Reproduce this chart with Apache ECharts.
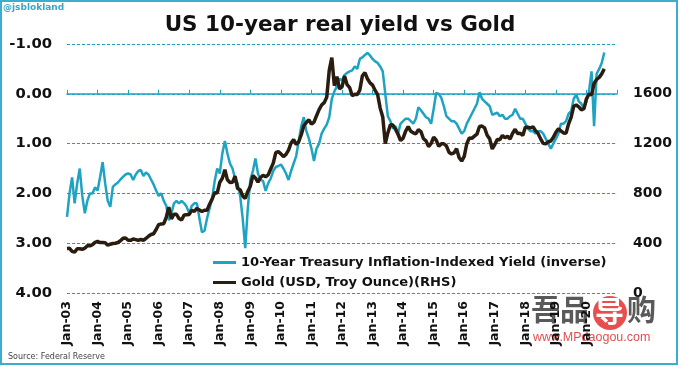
<!DOCTYPE html>
<html><head><meta charset="utf-8">
<script src="https://cdn.jsdelivr.net/npm/echarts@6/dist/echarts.min.js"></script>
<style>html,body{margin:0;padding:0;background:#fff}#c{width:680px;height:366px}</style>
</head><body><div id="c"></div>
<script>
const titleText = 'US 10-year real yield vs Gold';
const seriesNames = ['10-Year Treasury Inflation-Indexed Yield (inverse)', 'Gold (USD, Troy Ounce)(RHS)'];
const yearLabels = ['Jan-03','Jan-04','Jan-05','Jan-06','Jan-07','Jan-08','Jan-09','Jan-10','Jan-11','Jan-12','Jan-13','Jan-14','Jan-15','Jan-16','Jan-17','Jan-18','Jan-19','Jan-20'];
// monthly values, Jan-03 onward
const realYield = [
  2.47, 2.0, 1.68, 2.2, 1.8, 1.5, 2.05, 2.4, 2.15, 2.0, 2.0, 1.88,
  1.94, 1.67, 1.37, 1.8, 2.15, 2.27, 1.87, 1.82, 1.78, 1.72, 1.67, 1.62,
  1.6, 1.62, 1.73, 1.62, 1.55, 1.53, 1.65, 1.58, 1.62, 1.72, 1.82, 1.94,
  2.05, 2.0, 2.15, 2.25, 2.54, 2.4, 2.2, 2.15, 2.2, 2.15, 2.2, 2.27,
  2.4, 2.25, 2.2, 2.2, 2.5, 2.78, 2.75, 2.5, 2.3, 2.1, 1.75, 1.5,
  1.6, 1.2, 0.95, 1.2, 1.4, 1.5, 1.7, 1.8, 2.05, 2.5, 3.1, 2.3,
  1.73, 1.55, 1.3, 1.6, 1.73, 1.75, 1.95, 1.8, 1.7, 1.55, 1.47, 1.45,
  1.42, 1.5, 1.6, 1.73, 1.55, 1.4, 1.25, 0.95, 0.65, 0.47, 0.75, 0.9,
  1.1, 1.35, 1.1, 1.0, 0.8, 0.7, 0.62, 0.47, 0.1, -0.05, -0.15, -0.3,
  -0.27, -0.38, -0.42, -0.45, -0.47, -0.55, -0.5, -0.7, -0.73, -0.78, -0.82, -0.77,
  -0.7, -0.65, -0.62, -0.55, -0.45, 0.0, 0.45, 0.55, 0.7, 0.65, 0.8, 0.6,
  0.55, 0.5, 0.5, 0.55, 0.6, 0.5, 0.27, 0.33, 0.4, 0.47, 0.5, 0.6,
  0.3, -0.02, 0.0, 0.08, 0.25, 0.45, 0.5, 0.55, 0.55, 0.6, 0.7, 0.8,
  0.75, 0.6, 0.5, 0.4, 0.3, 0.2, -0.03, 0.1, 0.15, 0.2, 0.25, 0.42,
  0.4, 0.38, 0.45, 0.42, 0.5, 0.5, 0.45, 0.42, 0.3, 0.4, 0.5, 0.5,
  0.6, 0.7, 0.75, 0.75, 0.8, 0.75, 0.75, 0.8, 0.9, 1.0, 1.1, 1.0,
  0.9, 0.8, 0.6, 0.6, 0.55, 0.4, 0.35, 0.1, 0.02, 0.15, 0.2, 0.3,
  0.15, -0.05, -0.45, 0.65, -0.4, -0.5, -0.62, -0.83
];
const gold = [
  357, 359, 335, 328, 355, 356, 351, 360, 379, 379, 389, 407,
  414, 405, 406, 404, 384, 392, 398, 400, 406, 420, 439, 442,
  424, 423, 434, 429, 422, 430, 424, 438, 456, 470, 476, 510,
  549, 555, 557, 610, 690, 596, 633, 632, 598, 586, 627, 629,
  631, 665, 655, 679, 667, 655, 665, 665, 713, 754, 806, 803,
  889, 922, 990, 909, 888, 889, 939, 839, 829, 780, 760, 816,
  858, 943, 924, 890, 928, 946, 934, 949, 996, 1043, 1127, 1135,
  1118, 1095, 1113, 1148, 1205, 1233, 1193, 1215, 1271, 1343, 1370, 1391,
  1356, 1372, 1424, 1473, 1510, 1529, 1572, 1790, 1890, 1665, 1739, 1640,
  1656, 1742, 1673, 1650, 1585, 1596, 1594, 1630, 1745, 1770, 1721, 1688,
  1670, 1627, 1593, 1485, 1414, 1200, 1286, 1352, 1349, 1316, 1275, 1225,
  1244, 1300, 1336, 1299, 1287, 1279, 1311, 1296, 1239, 1222, 1176, 1201,
  1251, 1227, 1179, 1198, 1199, 1182, 1131, 1117, 1125, 1159, 1086, 1060,
  1097, 1199, 1246, 1242, 1260, 1276, 1337, 1341, 1326, 1267, 1238, 1157,
  1192, 1234, 1231, 1266, 1246, 1260, 1236, 1283, 1315, 1280, 1283, 1265,
  1331, 1331, 1325, 1335, 1303, 1282, 1238, 1202, 1198, 1215, 1221, 1250,
  1291, 1320, 1301, 1286, 1284, 1359, 1413, 1500, 1510, 1495, 1471, 1480,
  1560, 1597, 1591, 1683, 1716, 1732, 1760, 1800
];
const leftTicks = { min: -1, max: 4, step: 1 };
const rightTicks = { min: 0, max: 2000, step: 400 };

const FONT = '"DejaVu Sans", Verdana, sans-serif';
const TEAL = '#1fa3c2';
const GRIDC = '#1f9cc0';
const BROWN = '#2a1d10';

const chart = echarts.init(document.getElementById('c'), null, { renderer: 'canvas' });
chart.setOption({
  animation: false,
  backgroundColor: '#fff',
  title: {
    text: titleText, left: 'center', top: 9,
    textStyle: { fontFamily: FONT, fontWeight: 'bold', fontSize: 21.5, color: '#111' }
  },
  grid: { left: 67, right: 63, top: 44, bottom: 73 },
  legend: {
    orient: 'vertical', left: 213, top: 256, padding: 0, itemWidth: 23, itemHeight: 3, itemGap: 7,
    icon: 'rect', data: seriesNames,
    textStyle: { fontFamily: FONT, fontWeight: 'bold', fontSize: 13.1, color: '#111' }
  },
  xAxis: [
    {
      type: 'value', min: 0, max: 216, interval: 12, position: 'bottom',
      axisLine: { show: false, onZero: false }, axisTick: { show: false }, splitLine: { show: false },
      axisLabel: {
        rotate: 90, margin: 8, fontFamily: FONT, fontWeight: 'bold', fontSize: 12.5, color: '#111',
        formatter: v => (v % 12 === 0 && yearLabels[v / 12]) ? yearLabels[v / 12] : ''
      }
    },
    {
      type: 'value', min: 0, max: 216, interval: 12, position: 'bottom',
      axisLine: { show: true, onZero: true, onZeroAxisIndex: 0, lineStyle: { color: TEAL, width: 1.5 } },
      axisTick: { show: true, inside: true, length: 4, lineStyle: { color: TEAL, width: 1 } },
      axisLabel: { show: false }, splitLine: { show: false }
    }
  ],
  yAxis: [
    {
      type: 'value', inverse: true, min: leftTicks.min, max: leftTicks.max, interval: leftTicks.step, position: 'left',
      axisLine: { show: false }, axisTick: { show: false },
      axisLabel: { margin: 15, fontFamily: FONT, fontWeight: 'bold', fontSize: 14.8, color: '#111', formatter: v => v.toFixed(2) },
      splitLine: { show: true, lineStyle: { color: GRIDC, width: 1, type: [3, 2] } }
    },
    {
      type: 'value', min: rightTicks.min, max: rightTicks.max, interval: rightTicks.step, position: 'right',
      axisLine: { show: false }, axisTick: { show: false }, splitLine: { show: false },
      axisLabel: { margin: 16, showMaxLabel: false, fontFamily: FONT, fontWeight: 'bold', fontSize: 14, color: '#111',
        formatter: v => v === rightTicks.max ? '' : String(v) }
    }
  ],
  series: [
    {
      name: seriesNames[0], type: 'line', xAxisIndex: 0, yAxisIndex: 0, showSymbol: false,
      data: realYield.map((v, i) => [i, v]),
      lineStyle: { color: TEAL, width: 2.5 }, itemStyle: { color: TEAL }, z: 3
    },
    {
      name: seriesNames[1], type: 'line', xAxisIndex: 0, yAxisIndex: 1, showSymbol: false,
      data: gold.map((v, i) => [i, v]),
      lineStyle: { color: BROWN, width: 3.5 }, itemStyle: { color: BROWN }, z: 4
    }
  ],
  graphic: [
    { type: 'rect', silent: true, shape: { x: 1, y: 1, width: 676, height: 363 }, style: { fill: 'none', stroke: '#3aaecb', lineWidth: 2 } },
    { type: 'text', left: 3, top: 3, style: { text: '@jsblokland', fill: '#39a7c7', font: 'bold 9px ' + FONT } },
    { type: 'text', left: 8, top: 353, style: { text: 'Source: Federal Reserve', fill: '#444', font: '8px ' + FONT } },
    { type: 'text', left: 531, top: 295, style: { text: '吾品', fill: 'rgba(60,60,60,0.85)', font: 'bold 29px "Noto Sans CJK SC"' } },
    { type: 'circle', shape: { cx: 610, cy: 313, r: 17 }, style: { fill: 'rgba(228,60,60,0.9)' } },
    { type: 'text', left: 595, top: 297, style: { text: '导', fill: '#fff', font: 'bold 29px "Noto Sans CJK SC"' } },
    { type: 'text', left: 627, top: 295, style: { text: '购', fill: 'rgba(60,60,60,0.85)', font: 'bold 29px "Noto Sans CJK SC"' } },
    { type: 'text', left: 533, top: 331, style: { text: 'www.MPdaogou.com', fill: 'rgba(220,60,60,0.9)', font: '12.5px "Liberation Sans"' } }
  ]
});
</script>
</body></html>
